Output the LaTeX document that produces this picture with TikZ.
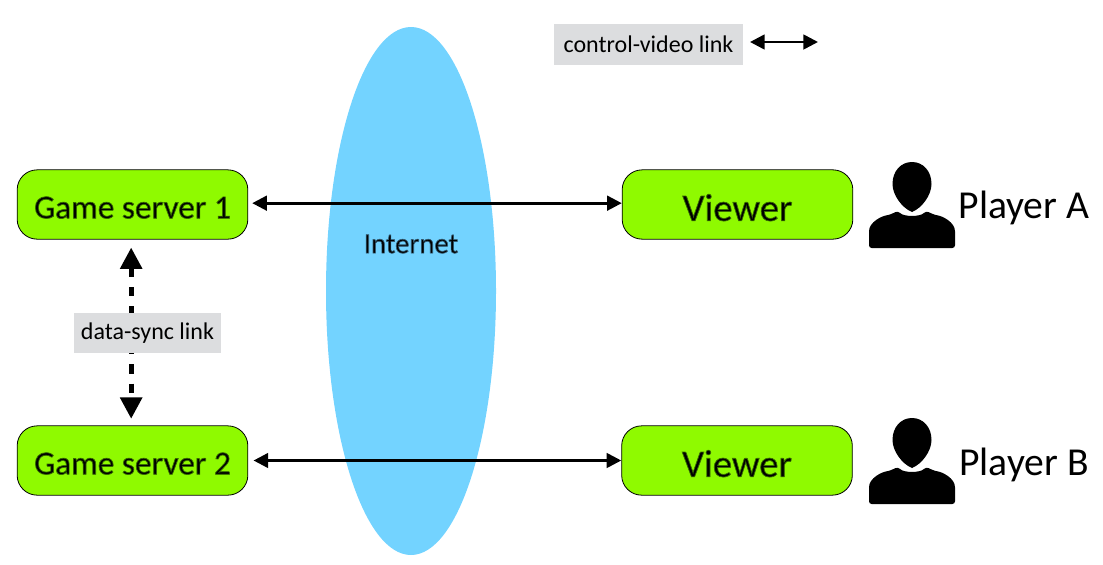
\documentclass[tikz,border=0pt]{standalone}
\usepackage{fontspec}
\setmainfont{Carlito}
\usetikzlibrary{arrows.meta, shapes.geometric}
\definecolor{servergreen}{HTML}{8FFA00}
\definecolor{cloudblue}{HTML}{73D3FF}
\definecolor{tagGrey}{HTML}{DCDDDF}
% soft dark edge round the glyphs of the boxed labels
\newcommand{\glowgreen}[1]{\raisebox{-1.5pt}[\dimexpr\height+1.5pt\relax][\dimexpr\depth-1.5pt\relax]{\special{pdf:code q 2 Tr 0.55 w 0.22 0.42 0 RG}#1\special{pdf:code Q}}}
\newcommand{\glowblue}[1]{\special{pdf:code q 2 Tr 0.5 w 0.2 0.36 0.45 RG}#1\special{pdf:code Q}}
\tikzset{
  serverbox/.style={draw=black, line width=0.6pt, fill=servergreen, rounded corners=15pt, minimum width=173pt, minimum height=52pt, inner sep=0pt},
  taglabel/.style={fill=tagGrey, inner sep=0pt, font=\fontsize{18}{20}\selectfont},
  videolink/.style={line width=2pt, {Triangle[length=11pt,width=11pt]}-{Triangle[length=11pt,width=11pt]}},
  synclink/.style={line width=3.6pt, dash pattern=on 7pt off 7.5pt, {Triangle[length=16pt,width=16pt]}-{Triangle[length=16pt,width=16pt]}},
  player/.pic={
    \fill[black] (0,-24) .. controls (-11,-24) and (-19.5,-15) .. (-19.5,-2) .. controls (-19.5,9) and (-10,22) .. (0,26) .. controls (10,22) and (19.5,9) .. (19.5,-2) .. controls (19.5,-15) and (11,-24) .. (0,-24) -- cycle;
    \fill[black, rounded corners=2pt] (-43,62) -- (-43,48) .. controls (-43,36) and (-30,30) .. (-23,29) -- (-14,25) .. controls (-8,31) and (8,31) .. (14,25) -- (23,29) .. controls (30,30) and (43,36) .. (43,48) -- (43,62) -- cycle;
  }
}
\begin{document}
\begin{tikzpicture}[x=0.75pt, y=-0.75pt]
  \useasboundingbox (0,0) rectangle (1103,564);
  % internet in the back
  \node[ellipse, fill=cloudblue, minimum width=127.5pt, minimum height=396pt, inner sep=0pt] (internet) at (411,291) {};
  \node[font=\fontsize{21.5}{24}\selectfont] (internetlabel) at (411,244) {\glowblue{Internet}};
  % servers and viewers
  \node[serverbox, font=\fontsize{25}{28}\selectfont] (server1) at (132.5,204.5) {\glowgreen{Game server 1}};
  \node[serverbox, font=\fontsize{25}{28}\selectfont] (server2) at (132.5,460.5) {\glowgreen{Game server 2}};
  \node[serverbox, font=\fontsize{29}{34}\selectfont] (viewer1) at (737.5,204.5) {\glowgreen{Viewer}};
  \node[serverbox, font=\fontsize{29}{34}\selectfont] (viewer2) at (737,460.5) {\glowgreen{Viewer}};
  % players
  \pic at (912,186) {player};
  \pic at (912,442) {player};
  \node[font=\fontsize{29.7}{34}\selectfont] (playerA) at (1024,208) {Player A};
  \node[font=\fontsize{29.7}{34}\selectfont] (playerB) at (1024,465) {Player B};
  % links
  \draw[videolink, shorten <=3pt, shorten >=0pt] ([yshift=1pt]server1.east) -- ([yshift=1pt]viewer1.west);
  \draw[videolink, shorten <=4pt, shorten >=0pt] (server2) -- (viewer2);
  \draw[synclink, shorten <=6pt, shorten >=5pt] ([xshift=-1pt]server1.south) -- ([xshift=-1pt]server2.north);
  \node[taglabel, minimum width=110pt, minimum height=30pt] (synctag) at (147.5,333) {data-sync link};
  % legend
  \node[taglabel, minimum width=142pt, minimum height=31pt] (legendtag) at (648.5,44.5) {control-video link};
  \coordinate (legendL) at (750,42);
  \coordinate (legendR) at (818,42);
  \draw[videolink] (legendL) -- (legendR);
\end{tikzpicture}
\end{document}
